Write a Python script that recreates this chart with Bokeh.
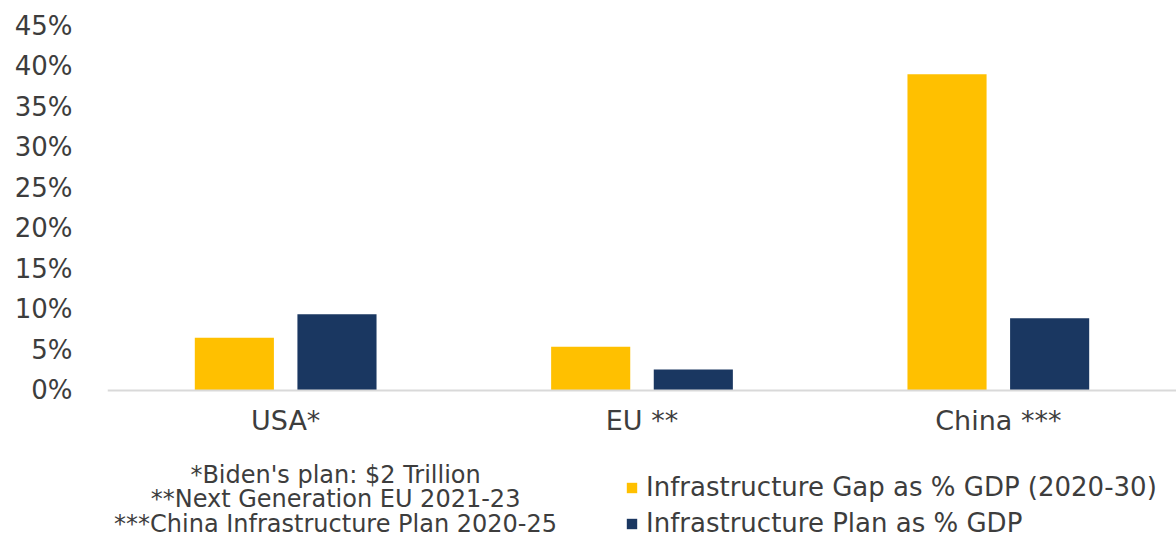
from bokeh.plotting import figure
from bokeh.models import (ColumnDataSource, FactorRange, FixedTicker, PrintfTickFormatter,
                          Legend, LegendItem, Label, Range1d, Span)
from bokeh.core.properties import value
from bokeh.transform import dodge
from bokeh.embed import file_html
from bokeh.resources import INLINE

# ---- data ----
categories = ["USA*", "EU **", "China ***"]
gap_pct = [6.5, 5.4, 39.0]     # Infrastructure Gap as % GDP (2020-30)
plan_pct = [9.4, 2.6, 8.9]     # Infrastructure Plan as % GDP
y_ticks = [0, 5, 10, 15, 20, 25, 30, 35, 40, 45]
footnotes = ["*Biden's plan: $2 Trillion",
             "**Next Generation EU 2021-23",
             "***China Infrastructure Plan 2020-25"]
series_names = ["Infrastructure Gap as % GDP (2020-30)", "Infrastructure Plan as % GDP"]

GOLD = "#FFC000"
NAVY = "#1A3761"
TXT = "#3d3d3d"
FONT = "DejaVu Sans"

src = ColumnDataSource(dict(cat=categories, gap=gap_pct, plan=plan_pct,
                            lab_y=[-3.7] * len(categories)))

# frame spans from top (45%) down to the bottom of the canvas, so that the
# footnotes and legend below the baseline can live inside it
p = figure(width=1176, height=541, x_range=FactorRange(*categories, range_padding=0),
           y_range=Range1d(-18.62, 45), output_backend="svg", toolbar_location=None,
           min_border_left=107, min_border_right=0, min_border_top=25, min_border_bottom=0)
p.x_range.factor_padding = 0
p.outline_line_color = None
p.xgrid.visible = False
p.ygrid.visible = False
p.xaxis.visible = False

r1 = p.vbar(x=dodge("cat", -0.144, range=p.x_range), top="gap", width=0.222, source=src,
            fill_color=GOLD, line_color=None)
r2 = p.vbar(x=dodge("cat", 0.144, range=p.x_range), top="plan", width=0.222, source=src,
            fill_color=NAVY, line_color=None)

# baseline (category axis line)
p.add_layout(Span(location=0, dimension="width", line_color="#d9d9d9", line_width=2))

# category labels
p.text(x="cat", y="lab_y", text="cat", source=src, text_align="center",
       text_baseline="middle", text_font=value(FONT), text_font_size="27px",
       text_color=TXT)

# y axis
p.yaxis.ticker = FixedTicker(ticks=y_ticks)
p.yaxis.formatter = PrintfTickFormatter(format="%d%%")
p.yaxis.axis_line_color = None
p.yaxis.major_tick_line_color = None
p.yaxis.minor_tick_line_color = None
p.yaxis.major_label_standoff = 29
p.yaxis.major_label_text_font = FONT
p.yaxis.major_label_text_font_size = "26px"
p.yaxis.major_label_text_color = TXT

# footnotes
for i, t in enumerate(footnotes):
    p.add_layout(Label(x=0.64, y=-10.36 - 3.08 * i, text=t, text_align="center",
                       text_baseline="alphabetic", text_font=FONT,
                       text_font_size="24px", text_color=TXT))

legend = Legend(items=[LegendItem(label=series_names[0], renderers=[r1]),
                       LegendItem(label=series_names[1], renderers=[r2])],
                location=(518, 3), orientation="vertical")
legend.glyph_width = 13
legend.glyph_height = 13
legend.label_standoff = 8
legend.label_text_font = FONT
legend.label_text_font_size = "26px"
legend.label_text_color = TXT
legend.label_height = 28
legend.spacing = 6
legend.padding = 0
legend.margin = 0
legend.border_line_color = None
legend.background_fill_alpha = 0
p.add_layout(legend, "center")

open("out.html", "w").write(file_html(p, INLINE))
